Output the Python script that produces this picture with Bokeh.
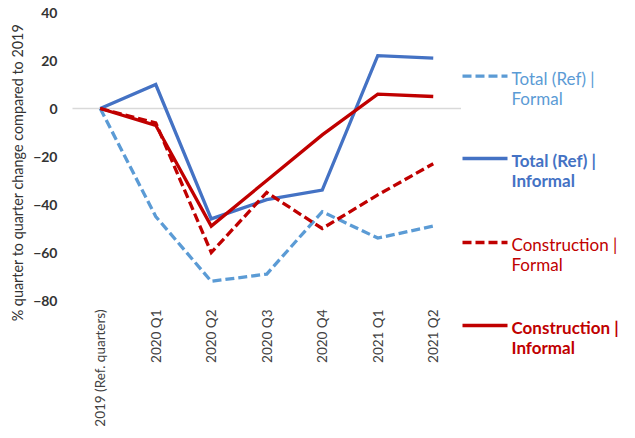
import math
from bokeh.plotting import figure
from bokeh.models import Range1d, FixedTicker
from bokeh.core.properties import value
from bokeh.embed import file_html
from bokeh.resources import INLINE

quarters = ["2019 (Ref. quarters)", "2020 Q1", "2020 Q2", "2020 Q3", "2020 Q4", "2021 Q1", "2021 Q2"]
total_formal = [0, -45, -72, -69, -43, -54, -49]
total_informal = [0, 10, -46, -38, -34, 22, 21]
construction_formal = [0, -6, -60, -35, -50, -36, -23]
construction_informal = [0, -7, -49, -30, -11, 6, 5]
y_ticks = [-80, -60, -40, -20, 0, 20, 40]
y_title = "% quarter to quarter change compared to 2019"

series = [
    ("Total (Ref) |", "Formal", total_formal, "#5B9BD5", "9 4", "normal"),
    ("Total (Ref) |", "Informal", total_informal, "#4472C4", "solid", "bold"),
    ("Construction |", "Formal", construction_formal, "#C00000", "9 4", "normal"),
    ("Construction |", "Informal", construction_informal, "#C00000", "solid", "bold"),
]

FONT = "Lato"
W, H = 627, 430
# layout (pixels): plot area x 72..460, y 12 (=40) .. 300 (=-80)
PX_LEFT, STEP = 99.75, 55.5
Y0_PX, PX_PER_UNIT = 108.0, 2.4

xs = list(range(len(quarters)))
x_start = -PX_LEFT / STEP
x_end = (W - PX_LEFT) / STEP
y_end = Y0_PX / PX_PER_UNIT
y_start = (Y0_PX - H) / PX_PER_UNIT

p = figure(width=W, height=H, x_range=Range1d(x_start, x_end), y_range=Range1d(y_start, y_end),
           output_backend="svg", toolbar_location=None, min_border=0)
p.extra_x_ranges = {"px": Range1d(0, W)}
p.extra_y_ranges = {"px": Range1d(H, 0)}
p.outline_line_color = None
p.xgrid.visible = False
p.ygrid.visible = False

# zero gridline over the plot area
p.line([xs[0] - 0.5, xs[-1] + 0.5], [0, 0], line_color="#D9D9D9", line_width=1.5)

for l1, l2, vals, col, dash, _ in series:
    p.line(xs, vals, line_color=col, line_width=3.3, line_dash=dash, line_join="miter")

ya = p.yaxis[0]
ya.fixed_location = xs[0] - 0.5
ya.ticker = FixedTicker(ticks=y_ticks)
ya.axis_line_color = None
ya.major_tick_line_color = None
ya.minor_tick_line_color = None
ya.major_tick_out = 0
ya.major_label_text_font = FONT
ya.major_label_text_font_size = "14px"
ya.major_label_text_font_style = "bold"
ya.major_label_text_color = "#333333"
ya.major_label_standoff = 15

xa = p.xaxis[0]
xa.fixed_location = y_ticks[0]
xa.ticker = FixedTicker(ticks=xs)
xa.major_label_overrides = {i: q for i, q in zip(xs, quarters)}
xa.axis_line_color = None
xa.major_tick_line_color = None
xa.minor_tick_line_color = None
xa.major_tick_out = 0
xa.major_label_orientation = math.pi / 2
xa.major_label_text_font = FONT
xa.major_label_text_font_size = "13.5px"
xa.major_label_text_color = "#404040"
xa.major_label_standoff = 9

# y-axis title
p.text([17], [172], text=[y_title], angle=math.pi / 2, x_range_name="px", y_range_name="px",
       text_font=value(FONT), text_font_size="14.4px", text_color="#333333",
       text_align="center", text_baseline="middle")

# legend
legend_y = [75.7, 158, 242, 325]
for (l1, l2, vals, col, dash, style), yy in zip(series, legend_y):
    p.line([462, 507], [yy, yy], line_color=col, line_width=3.3, line_dash=dash,
           x_range_name="px", y_range_name="px")
    p.text([511], [yy + 2], text=[l1], text_color=col, text_font=value(FONT),
           text_font_size="17px", text_font_style=style, text_baseline="middle",
           x_range_name="px", y_range_name="px")
    p.text([511], [yy + 22], text=[l2], text_color=col, text_font=value(FONT),
           text_font_size="17px", text_font_style=style, text_baseline="middle",
           x_range_name="px", y_range_name="px")

open("out.html", "w").write(file_html(p, INLINE))
